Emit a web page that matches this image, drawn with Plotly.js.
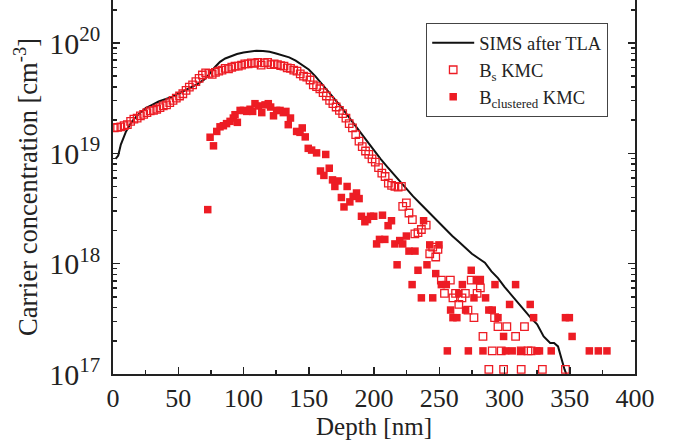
<!DOCTYPE html>
<html>
<head>
<meta charset="utf-8">
<script src="https://cdn.plot.ly/plotly-3.0.1.min.js"></script>
<style>html,body{margin:0;padding:0;background:#fff;}#chart{width:676px;height:444px;}</style>
</head>
<body>
<div id="chart"></div>
<script>
// SIMS after TLA (solid black line)
const simsDepth = [2,4,6,8,10,13,16,20,25,30,35,40,45,50,55,60,65,70,74,78,82,86,90,95,100,105,110,115,120,125,130,135,140,145,150,155,160,165,170,175,180,185,190,195,200,205,210,215,220,225,230,235,240,245,250,255,260,265,270,275,280,285,290,295,300,305,310,315,320,325,330,335,338,341,344,346,348,350];
const simsConc = [8.91e18,9.55e18,1.20e19,1.41e19,1.58e19,1.82e19,2.04e19,2.29e19,2.57e19,2.75e19,2.95e19,3.09e19,3.24e19,3.47e19,3.72e19,3.98e19,4.27e19,4.68e19,5.25e19,6.03e19,6.76e19,7.24e19,7.59e19,7.94e19,8.22e19,8.41e19,8.51e19,8.47e19,8.32e19,8.04e19,7.76e19,7.41e19,6.92e19,6.31e19,5.75e19,5.01e19,4.27e19,3.63e19,3.09e19,2.63e19,2.19e19,1.82e19,1.55e19,1.29e19,1.07e19,8.91e18,7.59e18,6.46e18,5.50e18,4.68e18,4.07e18,3.55e18,3.09e18,2.69e18,2.34e18,2.04e18,1.78e18,1.58e18,1.38e18,1.23e18,1.12e18,1.02e18,8.51e17,7.41e17,6.17e17,5.25e17,4.37e17,3.80e17,3.24e17,2.82e17,2.19e17,1.91e17,1.91e17,1.78e17,1.32e17,1.10e17,9.55e16,7.94e16];

// Bs KMC (open squares)
const bsDepth = [1,3.5,6,8.5,11,13.5,16,18.5,21,23.5,26,28.5,31,33.5,36,38.5,41,43.5,46,48.5,51,53.5,56,58.5,61,63.5,66,68.5,71,73.5,76,78.5,81,83.5,86,88.5,91,93.5,96,98.5,101,103.5,106,108.5,111,113.5,116,118.5,121,123.5,126,128.5,131,133.5,136,138.5,141,143.5,146,148.5,151,153.5,156,158.5,161,163.5,166,168.5,171,173.5,176,178.5,181,183.5,186,188.5,191,193.5,196,198.5,201,203.5,206,208.5,211,213.5,216,218.5,221,
  222,224.8,226.8,229.4,231.3,233.7,236.3,240,242.7,245,247.3,249,251.6,254,258.5,260.5,262.5,265,267.4,270,272,274.5,276.6,279,281,281.5,283.5,288,290.6,292.4,295,297.5,299.3,301.8,308.5,312.8,312.8,315.3,318,320.4,329,346.7];
const bsConc = [1.70e19,1.72e19,1.74e19,1.78e19,1.82e19,1.95e19,2.04e19,2.09e19,2.19e19,2.26e19,2.34e19,2.43e19,2.45e19,2.51e19,2.60e19,2.69e19,2.75e19,2.88e19,3.02e19,3.16e19,3.31e19,3.47e19,3.72e19,3.98e19,4.17e19,4.47e19,4.79e19,5.13e19,5.37e19,5.31e19,5.19e19,5.43e19,5.56e19,5.69e19,5.89e19,5.82e19,6.03e19,6.17e19,6.17e19,6.31e19,6.46e19,6.46e19,6.61e19,6.53e19,6.68e19,6.31e19,6.61e19,6.68e19,6.38e19,6.46e19,6.38e19,6.24e19,6.17e19,5.96e19,5.89e19,5.69e19,5.56e19,5.25e19,5.01e19,4.90e19,4.62e19,4.17e19,4.03e19,3.85e19,3.55e19,3.31e19,3.02e19,2.82e19,2.63e19,2.45e19,2.29e19,2.09e19,1.86e19,1.70e19,1.48e19,1.29e19,1.15e19,1.05e19,9.77e18,8.91e18,8.32e18,7.41e18,6.61e18,6.17e18,5.37e18,5.13e18,5.01e18,4.95e18,5.01e18,
  3.31e18,3.55e18,2.88e18,2.51e18,1.86e18,1.91e18,2.04e18,2.24e18,1.23e18,1.41e18,1.15e18,1.35e18,7.08e17,5.37e17,7.08e17,4.90e17,5.37e17,4.27e17,4.90e17,5.37e17,3.80e17,7.08e17,3.24e17,5.37e17,7.08e17,6.03e17,2.19e17,1.10e17,1.62e17,3.24e17,2.69e17,1.62e17,1.10e17,2.69e17,2.19e17,1.62e17,1.10e17,2.69e17,1.62e17,1.62e17,1.10e17,1.10e17];

// Bclustered KMC (filled squares)
const bclDepth = [72.6,74.4,77,79.5,82,84.6,87,89.7,92.2,93.5,95.3,97.4,100,102.5,105,107,108.8,111.4,114,116.5,119,120.8,123,125.4,128,130.5,132.5,134.3,136,140.7,143.3,145,147.3,149.6,152.2,156,159,161.6,163,165.7,168.2,170,172.5,175,177,179.4,181.5,184,186.6,188.6,190.4,193,195,197.3,199.8,202,204.2,206.5,208.3,210.8,213.4,216,217.7,219.7,222,224.8,226.8,229.2,231.4,233.7,236.3,238,240.6,242.7,245,247.3,249.8,251.6,255.4,256.2,258.7,260.5,263.5,265,267.7,270.2,272.3,274.5,276.6,278.4,281.4,283.5,285.5,288,290.6,292.7,295,299.3,300.8,303.9,305.9,308.5,312.8,319.7,322.3,324.8,326.8,335.8,346.7,349.7,351.8,365,371.9,378.5];
const bclConc = [3.09e18,1.40e19,1.17e19,1.58e19,1.74e19,1.78e19,1.86e19,1.95e19,2.09e19,2.24e19,1.91e19,2.45e19,2.45e19,2.40e19,2.51e19,2.40e19,2.82e19,2.69e19,2.34e19,2.75e19,2.82e19,2.63e19,2.19e19,2.45e19,2.45e19,2.34e19,2.40e19,1.82e19,2.09e19,1.58e19,1.55e19,1.70e19,1.41e19,1.11e19,1.07e19,1.01e19,6.92e18,6.31e18,9.77e18,7.33e18,5.75e18,5.01e18,5.62e18,3.98e18,3.27e18,5.01e18,3.63e18,4.07e18,4.37e18,3.89e18,2.69e18,2.40e18,2.51e18,2.69e18,2.69e18,1.51e18,1.66e18,2.75e18,1.66e18,2.21e18,2.45e18,1.51e18,9.77e17,1.62e18,1.51e18,1.78e18,1.30e18,6.46e17,1.30e18,8.71e17,4.90e17,2.45e18,9.77e17,1.48e18,4.90e17,8.13e17,1.48e18,6.46e17,6.46e17,1.62e17,3.80e17,3.24e17,3.24e17,5.37e17,6.46e17,3.80e17,1.62e17,8.71e17,4.90e17,7.08e17,7.08e17,1.62e17,4.90e17,3.80e17,3.80e17,6.46e17,3.24e17,2.19e17,1.62e17,4.27e17,1.62e17,6.46e17,1.62e17,4.27e17,3.24e17,1.62e17,1.62e17,1.62e17,3.24e17,3.24e17,2.19e17,1.62e17,1.62e17,1.62e17];

const xTicks = [0,50,100,150,200,250,300,350,400];

const red = 'rgb(237,28,36)';
const serif = 'Liberation Serif, Times New Roman, serif';

const traces = [
  {x: simsDepth, y: simsConc, type: 'scatter', mode: 'lines', name: 'SIMS after TLA',
   line: {color: '#111', width: 2}},
  {x: bsDepth, y: bsConc, type: 'scatter', mode: 'markers', name: 'B<sub>s</sub> KMC',
   marker: {symbol: 'square-open', size: 7.5, color: red, line: {width: 1.3, color: red}}},
  {x: bclDepth, y: bclConc, type: 'scatter', mode: 'markers', name: 'B<sub>clustered</sub> KMC',
   marker: {symbol: 'square', size: 7.5, color: red, line: {width: 0}}}
];

const layout = {
  width: 676, height: 444,
  margin: {l: 112.7, r: 41, t: 0, b: 70},
  paper_bgcolor: '#fff', plot_bgcolor: '#fff',
  font: {family: serif, color: '#222'},
  showlegend: true,
  legend: {x: 0.6, y: 0.938, xanchor: 'left', yanchor: 'top', bgcolor: '#fff',
           bordercolor: '#444', borderwidth: 1, font: {family: serif, size: 18.5, color: '#222'},
           itemwidth: 42},
  xaxis: {
    range: [0, 400], tickvals: xTicks, ticktext: xTicks.map(String),
    ticks: 'inside', ticklen: 7, tickwidth: 1.5, tickcolor: '#222',
    minor: {ticks: 'inside', ticklen: 4, tickwidth: 1.5, tickcolor: '#222', dtick: 25, showgrid: false},
    showline: true, linewidth: 2, linecolor: '#222', mirror: false,
    showgrid: false, zeroline: false,
    tickfont: {family: serif, size: 26, color: '#222'},
    title: {text: 'Depth [nm]', font: {family: serif, size: 25, color: '#222'}, standoff: 0}
  },
  yaxis: {
    type: 'log', range: [17, 20.39], dtick: 1, exponentformat: 'power',
    ticks: 'inside', ticklen: 7, tickwidth: 1.5, tickcolor: '#222',
    minor: {ticks: 'inside', ticklen: 4, tickwidth: 1.5, tickcolor: '#222', dtick: 'D1', showgrid: false},
    showline: true, linewidth: 2, linecolor: '#222', mirror: 'ticks',
    showgrid: false, zeroline: false, ticklabelstandoff: 6,
    tickfont: {family: serif, size: 24, color: '#222'},
    title: {text: 'Carrier concentration [cm<sup>-3</sup>]', font: {family: serif, size: 26.5, color: '#222'}, standoff: 4}
  }
};

Plotly.newPlot('chart', traces, layout, {staticPlot: true, displayModeBar: false});
</script>
</body>
</html>
